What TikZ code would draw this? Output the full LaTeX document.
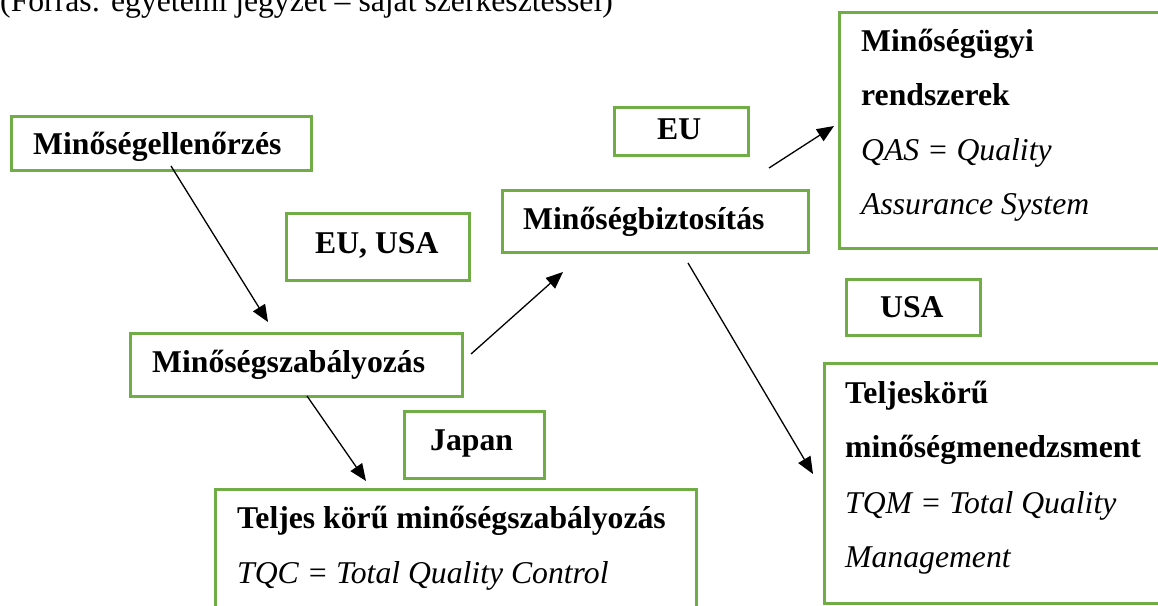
\documentclass[tikz,border=0pt]{standalone}
\usepackage{fontspec}
\setmainfont{Liberation Serif}
\usetikzlibrary{arrows.meta}
\definecolor{boxgreen}{RGB}{112,173,71}
\begin{document}
\begin{tikzpicture}[x=1pt,y=-1pt,
  box/.style={draw=boxgreen, line width=2.6pt, rectangle, inner sep=0pt, anchor=north west},
  txt/.style={anchor=base west, inner sep=0pt, font=\fontsize{31.7}{38}\selectfont},
  bf/.style={txt, font=\fontsize{31.7}{38}\selectfont\bfseries},
  it/.style={txt, font=\fontsize{31.7}{38}\selectfont\itshape},
  arr/.style={-{Triangle[length=17pt,width=14pt]}, line width=1.3pt}]
\useasboundingbox (0,0) rectangle (1158,605);
\clip (0,0) rectangle (1158,605);

% caption
\node[txt] (cap) at (0,12) {(Forrás: egyetemi jegyzet – saját szerkesztéssel)};

% boxes
\node[box, minimum width=300pt, minimum height=54pt] (ell) at (10,115) {};
\node[bf] (tell) at (33,154) {Minőségellenőrzés};

\node[box, minimum width=183pt, minimum height=67pt] (euusa) at (285,212) {};
\node[bf] (teuusa) at (315,253) {EU, USA};

\node[box, minimum width=134pt, minimum height=48pt] (eu) at (613,106) {};
\node[bf] (teu) at (657,139) {EU};

\node[box, minimum width=306pt, minimum height=62pt] (biz) at (501,189) {};
\node[bf] (tbiz) at (523,229) {Minőségbiztosítás};

\node[box, minimum width=340pt, minimum height=236pt] (qas) at (838,11) {};
\node[bf] (tqas1) at (861,51) {Minőségügyi};
\node[bf] (tqas2) at (861,105) {rendszerek};
\node[it] (tqas3) at (861,160) {QAS = Quality};
\node[it] (tqas4) at (861,214) {Assurance System};

\node[box, minimum width=134pt, minimum height=56pt] (usa) at (845,278) {};
\node[bf] (tusa) at (880,317) {USA};

\node[box, minimum width=332pt, minimum height=63pt] (szab) at (129,332) {};
\node[bf] (tszab) at (152,372) {Minőségszabályozás};

\node[box, minimum width=140pt, minimum height=67pt] (jap) at (403,410) {};
\node[bf] (tjap) at (430,450) {Japan};

\node[box, minimum width=481pt, minimum height=140pt] (tqc) at (214,488) {};
\node[bf] (ttqc1) at (237,528) {Teljes körű minőségszabályozás};
\node[it] (ttqc2) at (237,583) {TQC = Total Quality Control};

\node[box, minimum width=350pt, minimum height=240pt] (tqm) at (823,362) {};
\node[bf] (ttqm1) at (845,403) {Teljeskörű};
\node[bf] (ttqm2) at (845,457) {minőségmenedzsment};
\node[it] (ttqm3) at (845,513) {TQM = Total Quality};
\node[it] (ttqm4) at (845,567) {Management};

% connector ends
\coordinate (a1s) at (171,166); \coordinate (a1e) at (268,322);
\coordinate (a2s) at (471,354); \coordinate (a2e) at (563,272);
\coordinate (a3s) at (307,396); \coordinate (a3e) at (366,481);
\coordinate (a4s) at (688,263); \coordinate (a4e) at (813,474);
\coordinate (a5s) at (769,168); \coordinate (a5e) at (834,126);

\draw[arr] (a1s) -- (a1e);
\draw[arr] (a2s) -- (a2e);
\draw[arr] (a3s) -- (a3e);
\draw[arr] (a4s) -- (a4e);
\draw[arr] (a5s) -- (a5e);
\end{tikzpicture}
\end{document}
